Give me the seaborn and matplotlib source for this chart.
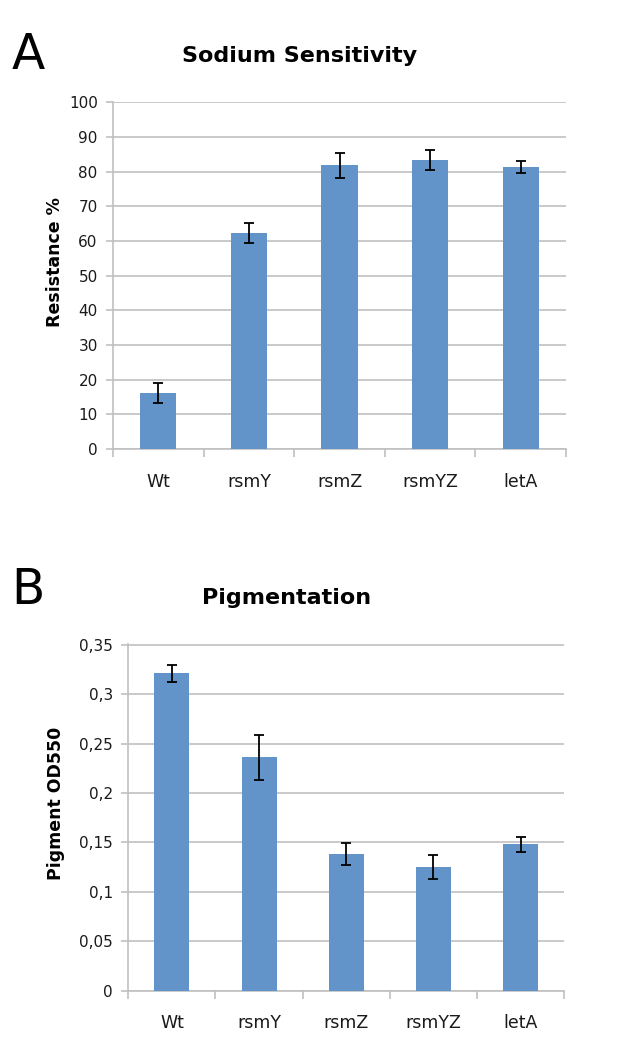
import numpy as np
import pandas as pd
import matplotlib
matplotlib.use('Agg')
import matplotlib.pyplot as plt
from matplotlib.ticker import FixedLocator, FuncFormatter
import seaborn as sns

strains = ['Wt', 'rsmY', 'rsmZ', 'rsmYZ', 'letA']
resistance = [16.2, 62.3, 81.8, 83.3, 81.4]
resistance_err = [2.9, 2.8, 3.5, 2.8, 1.7]
pigment = [0.321, 0.236, 0.138, 0.125, 0.148]
pigment_err = [0.009, 0.023, 0.011, 0.012, 0.008]

sns.set_theme(style='white')
plt.rcParams['font.family'] = ['DejaVu Sans']

bar_col = '#6294c9'
grid_col = '#c0c0c0'

fig = plt.figure(figsize=(6.23, 10.5), dpi=100)
ax1 = fig.add_axes([0.1814, 0.5724, 0.7271, 0.3305])
ax2 = fig.add_axes([0.2059, 0.0565, 0.6998, 0.3299])


def draw(ax, vals, errs, ymax, step, ylab, fmt):
    df = pd.DataFrame({'strain': strains, 'val': vals})
    sns.barplot(data=df, x='strain', y='val', color=bar_col, saturation=1,
                width=0.4, errorbar=None, linewidth=0, ax=ax, zorder=3)
    ax.errorbar(np.arange(len(strains)), vals, yerr=errs, fmt='none',
                ecolor='black', elinewidth=1.3, capsize=3.5, capthick=1.3, zorder=4)
    ax.set_xlim(-0.5, len(strains) - 0.5)
    # a hair above the top tick so the top gridline is not clipped
    ax.set_ylim(0, ymax + step * 0.01)
    ax.set_yticks(np.arange(0, ymax + step / 2, step))
    ax.yaxis.set_major_formatter(FuncFormatter(fmt))
    ax.grid(axis='y', color=grid_col, linewidth=1.2, zorder=0)
    ax.set_axisbelow(True)
    for s in ['top', 'right']:
        ax.spines[s].set_visible(False)
    for s in ['left', 'bottom']:
        ax.spines[s].set_color(grid_col)
        ax.spines[s].set_linewidth(1.2)
    ax.tick_params(axis='y', which='major', left=True, length=5, width=1.2,
                   color=grid_col, labelsize=11, labelcolor='#1a1a1a', pad=6)
    ax.tick_params(axis='x', which='major', bottom=False, labelsize=12.5,
                   labelcolor='#1a1a1a', pad=11)
    ax.xaxis.set_minor_locator(FixedLocator(np.arange(-0.5, len(strains), 1.0)))
    ax.tick_params(axis='x', which='minor', bottom=True, length=6, width=1.2,
                   color=grid_col)
    ax.set_xlabel('')
    ax.set_ylabel(ylab, fontsize=12.5, fontweight='bold', color='black')


draw(ax1, resistance, resistance_err, 100, 10, 'Resistance %',
     lambda v, p: f'{v:.0f}')
draw(ax2, pigment, pigment_err, 0.35, 0.05, 'Pigment OD550',
     lambda v, p: ('%g' % round(v, 2)).replace('.', ','))

ax1.yaxis.set_label_coords(-0.108, 0.54)
ax2.yaxis.set_label_coords(-0.145, 0.54)

fig.text(300 / 623, 1 - 56 / 1050, 'Sodium Sensitivity', fontsize=16,
         fontweight='bold', color='black', ha='center', va='center')
fig.text(287 / 623, 1 - 598 / 1050, 'Pigmentation', fontsize=16,
         fontweight='bold', color='black', ha='center', va='center')

fig.text(0.018, 0.948, 'A', fontsize=35, color='black', ha='left', va='center')
fig.text(0.018, 0.438, 'B', fontsize=35, color='black', ha='left', va='center')

fig.savefig('out.png', dpi=100)
